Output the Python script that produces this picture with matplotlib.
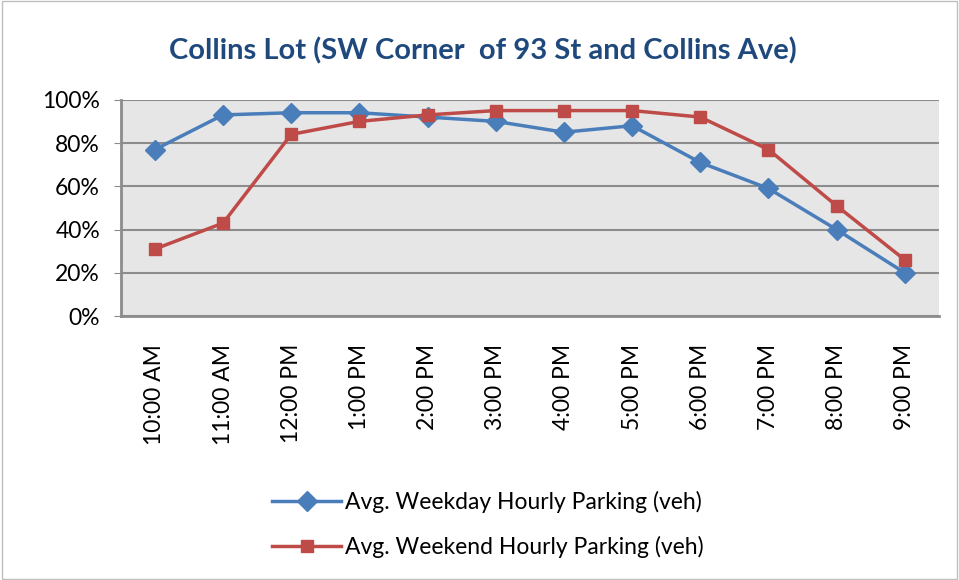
import matplotlib.pyplot as plt
from matplotlib.ticker import PercentFormatter

hours = ["10:00 AM", "11:00 AM", "12:00 PM", "1:00 PM", "2:00 PM", "3:00 PM",
         "4:00 PM", "5:00 PM", "6:00 PM", "7:00 PM", "8:00 PM", "9:00 PM"]
weekday = [77, 93, 94, 94, 92, 90, 85, 88, 71, 59, 40, 20]
weekend = [31, 43, 84, 90, 93, 95, 95, 95, 92, 77, 51, 26]

plt.rcParams["font.family"] = ["Lato", "DejaVu Sans"]

fig = plt.figure(figsize=(9.59, 5.8), dpi=100)
ax = fig.add_axes([0.126, 0.455, 0.853, 0.373])

x = range(len(hours))
ax.plot(x, weekday, color="#4A7EBB", lw=2.5, marker="D", ms=10,
        label="Avg. Weekday Hourly Parking (veh)")
ax.plot(x, weekend, color="#BE4B48", lw=2.5, marker="s", ms=8.5,
        label="Avg. Weekend Hourly Parking (veh)")

ax.set_facecolor("#E6E6E6")
ax.set_xlim(-0.5, len(hours) - 0.5)
ax.set_ylim(0, 100)
ax.set_yticks(range(0, 101, 20))
ax.yaxis.set_major_formatter(PercentFormatter(decimals=0))
ax.grid(axis="y", color="#8C8C8C", lw=1.5)
ax.set_axisbelow(True)
for s in ["top", "right"]:
    ax.spines[s].set_visible(False)
for s in ["left", "bottom"]:
    ax.spines[s].set_color("#8C8C8C")
    ax.spines[s].set_linewidth(2)

ax.set_xticks(list(x))
ax.set_xticklabels(hours, rotation=90, fontsize=16.5)
ax.tick_params(axis="y", labelsize=16.5, length=5, color="#8C8C8C", pad=10)
ax.tick_params(axis="x", length=0, pad=20)

fig.text(0.503, 0.913, "Collins Lot (SW Corner  of 93 St and Collins Ave)",
         ha="center", va="center", fontsize=21, fontweight="bold", color="#1F497D")

fig.legend(*ax.get_legend_handles_labels(), loc="center", bbox_to_anchor=(0.509, 0.095),
           frameon=False, fontsize=16.5, handlelength=3, handletextpad=0.2,
           labelspacing=1.0)

fig.patches.append(plt.Rectangle((0.002, 0.002), 0.996, 0.996, transform=fig.transFigure,
                                 fill=False, edgecolor="#BFBFBF", lw=1))

fig.savefig("out.png", dpi=100)
